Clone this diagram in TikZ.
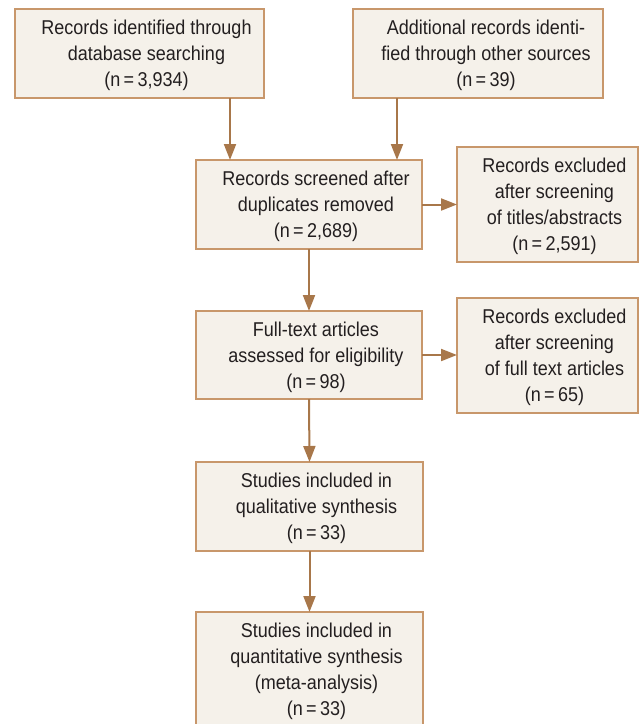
\documentclass[tikz,border=0pt]{standalone}
\usepackage{fontspec}
\setmainfont[FakeStretch=0.9]{Liberation Sans}
\usetikzlibrary{arrows.meta}
\definecolor{boxfill}{HTML}{F5F1EA}
\definecolor{boxline}{HTML}{C8976B}
\definecolor{arrcol}{HTML}{A8774A}
\definecolor{txtcol}{HTML}{231F20}
\tikzset{
  box/.style={draw=boxline, fill=boxfill, line width=1.5pt, inner sep=0pt, outer sep=0pt},
  txt/.style={align=center, text=txtcol, inner sep=0pt, font=\fontsize{20pt}{26pt}\selectfont},
  arr/.style={draw=arrcol, line width=2pt, -{Triangle[width=12pt,length=16pt]}, arrcol}
}
\begin{document}
\begin{tikzpicture}[x=1pt,y=-1pt]
\useasboundingbox (0,0) rectangle (641,724);
\clip (0,0) rectangle (641,724);
% boxes
\node[box, minimum width=249pt, minimum height=89pt] (b1) at (139.5,53.5) {};
\node[box, minimum width=250pt, minimum height=89pt] (b2) at (478,53.5) {};
\node[box, minimum width=226pt, minimum height=89pt] (b3) at (309,204.5) {};
\node[box, minimum width=181pt, minimum height=115pt] (b4) at (547.5,204.5) {};
\node[box, minimum width=226pt, minimum height=88pt] (b5) at (309,355) {};
\node[box, minimum width=181pt, minimum height=115pt] (b6) at (547.5,355.5) {};
\node[box, minimum width=227pt, minimum height=89pt] (b7) at (309.5,506.5) {};
\node[box, minimum width=227pt, minimum height=116pt] (b8) at (309.5,670) {};
% texts
\node[txt] (t1) at ([xshift=7pt,yshift=-2pt]b1.center) {Records identified through\\database searching\\(n\,=\,3,934)};
\node[txt] (t2) at ([xshift=8pt,yshift=-2pt]b2.center) {Additional records identi-\\fied through other sources\\(n\,=\,39)};
\node[txt] (t3) at ([xshift=7pt,yshift=-2pt]b3.center) {Records screened after\\duplicates removed\\(n\,=\,2,689)};
\node[txt] (t4) at ([xshift=7pt,yshift=-2pt]b4.center) {Records excluded\\after screening\\of titles/abstracts\\(n\,=\,2,591)};
\node[txt] (t5) at ([xshift=7pt,yshift=-2pt]b5.center) {Full-text articles\\assessed for eligibility\\(n\,=\,98)};
\node[txt] (t6) at ([xshift=7pt,yshift=-2pt]b6.center) {Records excluded\\after screening\\of full text articles\\(n\,=\,65)};
\node[txt] (t7) at ([xshift=7pt,yshift=-2pt]b7.center) {Studies included in\\qualitative synthesis\\(n\,=\,33)};
\node[txt, anchor=north] (t8) at ([xshift=7pt,yshift=-11pt]b8.north) {Studies included in\\quantitative synthesis\\(meta-analysis)\\(n\,=\,33)};
% arrows
\draw[arr] ([xshift=90.5pt]b1.south) -- ([xshift=90.5pt]b1.south |- b3.north);
\draw[arr] ([xshift=-81pt]b2.south) -- ([xshift=-81pt]b2.south |- b3.north);
\draw[arr] (b3.east) -- (b3.east -| b4.west);
\draw[arr] (b5.east) -- (b5.east -| b6.west);
\draw[arr] (b3.south) -- (b5.north);
\draw[arr] (b5.south) -- (b7.north);
\draw[arr] (b7.south) -- (b8.north);
\end{tikzpicture}
\end{document}
